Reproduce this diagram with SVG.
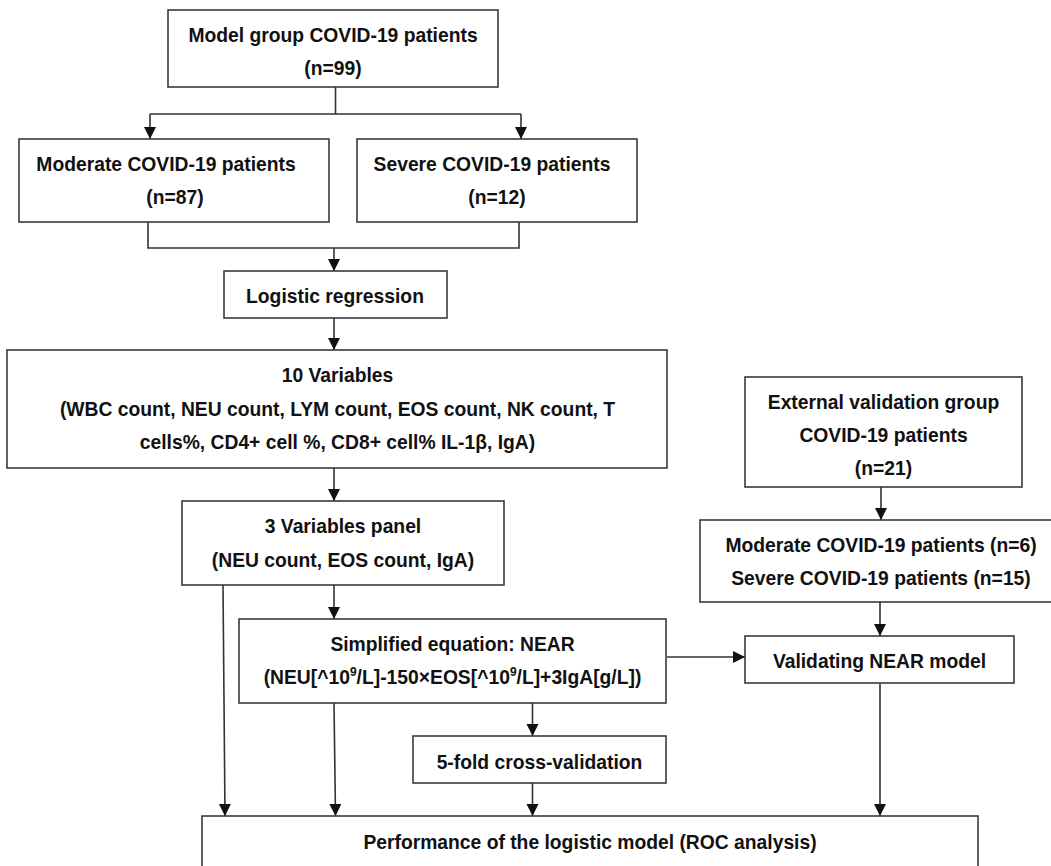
<svg xmlns="http://www.w3.org/2000/svg" width="1051" height="866" viewBox="0 0 1051 866">
<style>
.box{fill:#fff;stroke:#3a3a3a;stroke-width:1.6}
.t{font-family:"Liberation Sans",Arial,sans-serif;font-weight:bold;font-size:19.3px;fill:#111;text-anchor:middle}
.ln{fill:none;stroke:#333;stroke-width:1.6}
</style>
<defs>
<marker id="ah" markerUnits="userSpaceOnUse" markerWidth="13" markerHeight="13" refX="12" refY="6" orient="auto">
<path d="M0,0 L12,6 L0,12 z" fill="#111"/>
</marker>
</defs>
<rect width="1051" height="866" fill="#fff"/>

<g id="connectors">
<path class="ln" d="M335.5,87 V114 M150,114 H521"/>
<path class="ln" d="M150,114 V139" marker-end="url(#ah)"/>
<path class="ln" d="M521,114 V139" marker-end="url(#ah)"/>
<path class="ln" d="M148,222 V248 H519 V222"/>
<path class="ln" d="M334,248 V271" marker-end="url(#ah)"/>
<path class="ln" d="M334,318 V350" marker-end="url(#ah)"/>
<path class="ln" d="M334,468 V501" marker-end="url(#ah)"/>
<path class="ln" d="M334,585 V619" marker-end="url(#ah)"/>
<path class="ln" d="M223,585 L225,816" marker-end="url(#ah)"/>
<path class="ln" d="M334,703 L335.5,816" marker-end="url(#ah)"/>
<path class="ln" d="M532.5,703 V736" marker-end="url(#ah)"/>
<path class="ln" d="M532.5,783 V816" marker-end="url(#ah)"/>
<path class="ln" d="M667,657 H745" marker-end="url(#ah)"/>
<path class="ln" d="M880,683 V816" marker-end="url(#ah)"/>
<path class="ln" d="M881,487 V520" marker-end="url(#ah)"/>
<path class="ln" d="M880,602 V636" marker-end="url(#ah)"/>
</g>

<g id="model-group">
<rect class="box" x="168" y="10" width="330" height="77"/>
<text class="t" x="333" y="42">Model group COVID-19 patients</text>
<text class="t" x="333" y="75">(n=99)</text>
</g>

<g id="moderate">
<rect class="box" x="19" y="139" width="310" height="83"/>
<text class="t" x="166" y="171">Moderate COVID-19 patients</text>
<text class="t" x="175" y="204">(n=87)</text>
</g>

<g id="severe">
<rect class="box" x="357" y="139" width="280" height="83"/>
<text class="t" x="492" y="171">Severe COVID-19 patients</text>
<text class="t" x="497" y="204">(n=12)</text>
</g>

<g id="logistic">
<rect class="box" x="224" y="271" width="223" height="47"/>
<text class="t" x="335" y="303">Logistic regression</text>
</g>

<g id="ten-variables">
<rect class="box" x="7" y="350" width="660" height="118"/>
<text class="t" x="337.5" y="382">10 Variables</text>
<text class="t" x="337.5" y="416">(WBC count, NEU count, LYM count, EOS count, NK count, T</text>
<text class="t" x="337.5" y="449">cells%, CD4+ cell %, CD8+ cell% IL-1β, IgA)</text>
</g>

<g id="three-variables">
<rect class="box" x="182" y="501" width="322" height="84"/>
<text class="t" x="343" y="533">3 Variables panel</text>
<text class="t" x="343" y="567">(NEU count, EOS count, IgA)</text>
</g>

<g id="simplified">
<rect class="box" x="239" y="619" width="427" height="84"/>
<text class="t" x="452.5" y="651">Simplified equation: NEAR</text>
<text class="t" x="452.5" y="684">(NEU[^10<tspan font-size="12" dy="-8">9</tspan><tspan dy="8">/L]-150×EOS[^10</tspan><tspan font-size="12" dy="-8">9</tspan><tspan dy="8">/L]+3IgA[g/L])</tspan></text>
</g>

<g id="crossval">
<rect class="box" x="413" y="736" width="253" height="47"/>
<text class="t" x="539.5" y="769">5-fold cross-validation</text>
</g>

<g id="external">
<rect class="box" x="745" y="377" width="277" height="110"/>
<text class="t" x="883.5" y="409">External validation group</text>
<text class="t" x="883.5" y="442">COVID-19 patients</text>
<text class="t" x="883.5" y="475">(n=21)</text>
</g>

<g id="ext-split">
<rect class="box" x="700" y="520" width="362" height="82"/>
<text class="t" x="881" y="552">Moderate COVID-19 patients (n=6)</text>
<text class="t" x="881" y="585">Severe COVID-19 patients (n=15)</text>
</g>

<g id="validating">
<rect class="box" x="745" y="636" width="269" height="47"/>
<text class="t" x="879.5" y="668">Validating NEAR model</text>
</g>

<g id="performance">
<rect class="box" x="202" y="816" width="776" height="70"/>
<text class="t" x="590" y="849">Performance of the logistic model (ROC analysis)</text>
</g>
</svg>
